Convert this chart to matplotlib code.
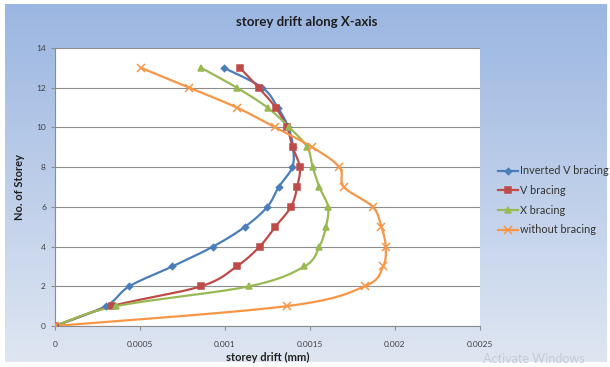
import numpy as np
import matplotlib
matplotlib.use("Agg")
import matplotlib.pyplot as plt
from matplotlib.colors import LinearSegmentedColormap

plt.rcParams['font.family'] = ['Lato', 'DejaVu Sans']

# storey numbers and drift values for each bracing type
storeys = [0, 1, 2, 3, 4, 5, 6, 7, 8, 9, 10, 11, 12, 13]
inverted_v = [0, 0.000298, 0.000437, 0.00069, 0.00093, 0.001118, 0.001249,
              0.001316, 0.001396, 0.0014, 0.001373, 0.00131, 0.00122, 0.000994]
v_bracing = [0, 0.000333, 0.000859, 0.001069, 0.001204, 0.001296, 0.001388,
             0.001425, 0.00144, 0.001398, 0.001365, 0.001298, 0.001198, 0.001088]
x_bracing = [0, 0.000359, 0.001143, 0.001467, 0.001555, 0.001594, 0.001606,
             0.001555, 0.001516, 0.001484, 0.001378, 0.00125, 0.00107, 0.00086]
no_bracing = [0, 0.001363, 0.001822, 0.00193, 0.001945, 0.00192, 0.001869,
              0.0017, 0.001673, 0.001514, 0.001296, 0.00107, 0.00079, 0.000506]

labels = ["Inverted V bracing", "V bracing", "X bracing", "without bracing"]
colors = ["#4a7ebb", "#be4b48", "#98b954", "#f79646"]
markers = ["D", "s", "^", "x"]
msizes = [3.2, 5, 5, 5.5]


def smooth(xs, ys, n=20):
    """Catmull-Rom curve through the points, like a spreadsheet smoothed line."""
    pts = np.column_stack([xs, ys]).astype(float)
    # scale so both axes weigh the same
    sx, sy = 0.0025, 14.0
    p = pts / [sx, sy]
    p = np.vstack([p[0], p, p[-1]])
    out = []
    for i in range(1, len(p) - 2):
        p0, p1, p2, p3 = p[i - 1], p[i], p[i + 1], p[i + 2]
        t = np.linspace(0, 1, n, endpoint=False)[:, None]
        seg = 0.5 * ((2 * p1) + (-p0 + p2) * t
                     + (2 * p0 - 5 * p1 + 4 * p2 - p3) * t ** 2
                     + (-p0 + 3 * p1 - 3 * p2 + p3) * t ** 3)
        out.append(seg)
    out.append(p[-2][None, :])
    out = np.vstack(out) * [sx, sy]
    return out[:, 0], out[:, 1]


fig = plt.figure(figsize=(6.10, 3.67), dpi=100)

# chart area with vertical blue gradient
bg = fig.add_axes([5 / 610, 5 / 367, 602 / 610, 358 / 367], zorder=0)
cmap = LinearSegmentedColormap.from_list("bg", ["#dfe6f2", "#9bb6e1"])
grad = np.linspace(0, 1, 256).reshape(-1, 1)
bg.imshow(grad, aspect="auto", cmap=cmap, origin="lower", extent=[0, 1, 0, 1])
bg.axis("off")

ax = fig.add_axes([55 / 610, 1 - 326 / 367, 425 / 610, 278 / 367], zorder=1)
ax.set_facecolor("white")

series = [inverted_v, v_bracing, x_bracing, no_bracing]
for vals, lab, c, m, ms in zip(series, labels, colors, markers, msizes):
    sxv, syv = smooth(vals, storeys)
    ax.plot(sxv, syv, color=c, lw=1.6, zorder=3)
    ax.plot(vals, storeys, linestyle="none", marker=m, ms=ms, color=c,
            mew=1.1, zorder=4)
    ax.plot([], [], color=c, lw=1.6, marker=m, ms=ms, mew=1.1, label=lab)

ax.set_xlim(0, 0.0025)
ax.set_ylim(0, 14)
ax.set_xticks([0, 0.0005, 0.001, 0.0015, 0.002, 0.0025])
ax.set_xticklabels(["0", "0.0005", "0.001", "0.0015", "0.002", "0.0025"])
ax.set_yticks(range(0, 15, 2))
ax.grid(axis="y", color="#8c8c8c", lw=0.8)
ax.set_axisbelow(True)
for side in ["top", "right"]:
    ax.spines[side].set_visible(False)
for side in ["left", "bottom"]:
    ax.spines[side].set_color("#8c8c8c")
ax.tick_params(axis="both", labelsize=6, colors="#8c8c8c", labelcolor="#404040",
               length=3)
ax.tick_params(axis="x", pad=8)

ax.set_xlabel("storey drift (mm)", fontsize=8, fontweight="bold", color="#1f1f1f",
              labelpad=3)
ax.set_ylabel("No. of Storey", fontsize=8, fontweight="bold", color="#1f1f1f",
              labelpad=8)
fig.text(307 / 610, 1 - 22 / 367, "storey drift along X-axis",
         ha="center", va="center", fontsize=9.5, fontweight="bold", color="#1f1f1f")

leg = fig.legend(loc="upper left", bbox_to_anchor=(494 / 610, 1 - 161 / 367),
                 frameon=False, fontsize=7.8, handlelength=1.8, handletextpad=0.2,
                 labelspacing=0.8, borderaxespad=0)
for t in leg.get_texts():
    t.set_color("#333333")

fig.text(483 / 610, 1 - 359 / 367, "Activate Windows", fontsize=9,
         color="#c5ccd6", ha="left", va="center")

fig.savefig("out.png", dpi=100)
